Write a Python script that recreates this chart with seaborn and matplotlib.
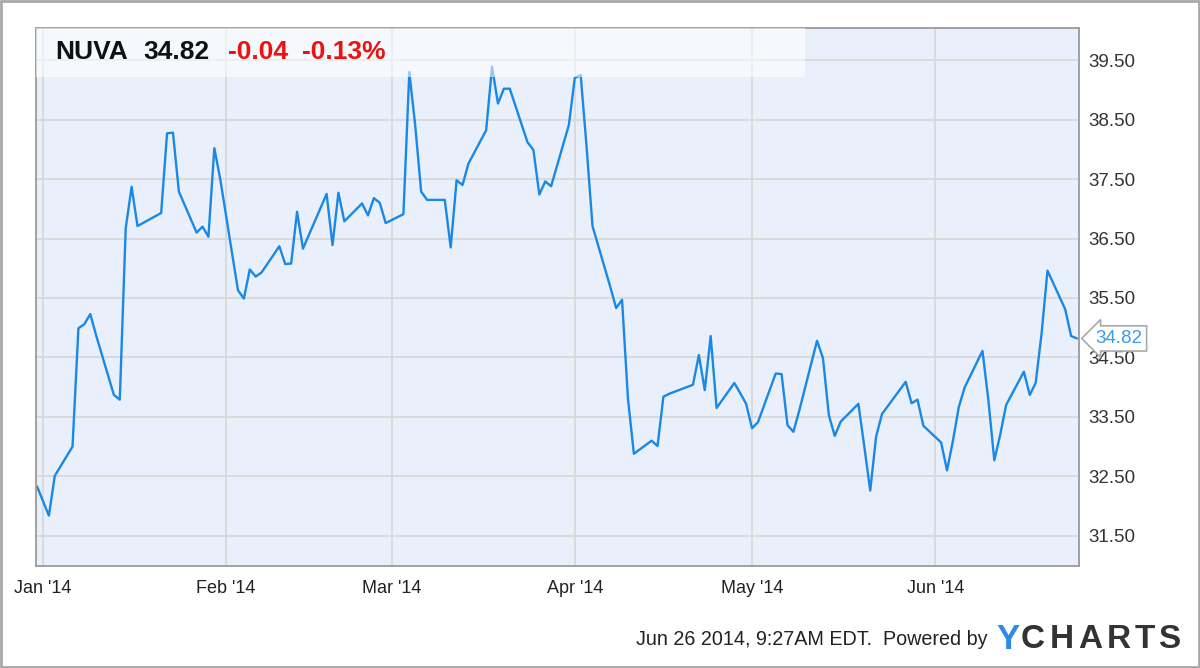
import numpy as np
import pandas as pd
import seaborn as sns
import matplotlib
matplotlib.use("Agg")
from matplotlib import pyplot as plt
import matplotlib.transforms as mtransforms
from matplotlib.patches import Rectangle

# NUVA daily close
dates = ["2013-12-31", "2014-01-02", "2014-01-03", "2014-01-06", "2014-01-07", "2014-01-08",
         "2014-01-09", "2014-01-10", "2014-01-13", "2014-01-14", "2014-01-15", "2014-01-16",
         "2014-01-17", "2014-01-21", "2014-01-22", "2014-01-23", "2014-01-24", "2014-01-27",
         "2014-01-28", "2014-01-29", "2014-01-30", "2014-01-31", "2014-02-03", "2014-02-04",
         "2014-02-05", "2014-02-06", "2014-02-07", "2014-02-10", "2014-02-11", "2014-02-12",
         "2014-02-13", "2014-02-14", "2014-02-18", "2014-02-19", "2014-02-20", "2014-02-21",
         "2014-02-24", "2014-02-25", "2014-02-26", "2014-02-27", "2014-02-28", "2014-03-03",
         "2014-03-04", "2014-03-05", "2014-03-06", "2014-03-07", "2014-03-10", "2014-03-11",
         "2014-03-12", "2014-03-13", "2014-03-14", "2014-03-17", "2014-03-18", "2014-03-19",
         "2014-03-20", "2014-03-21", "2014-03-24", "2014-03-25", "2014-03-26", "2014-03-27",
         "2014-03-28", "2014-03-31", "2014-04-01", "2014-04-02", "2014-04-03", "2014-04-04",
         "2014-04-07", "2014-04-08", "2014-04-09", "2014-04-10", "2014-04-11", "2014-04-14",
         "2014-04-15", "2014-04-16", "2014-04-17", "2014-04-21", "2014-04-22", "2014-04-23",
         "2014-04-24", "2014-04-25", "2014-04-28", "2014-04-29", "2014-04-30", "2014-05-01",
         "2014-05-02", "2014-05-05", "2014-05-06", "2014-05-07", "2014-05-08", "2014-05-09",
         "2014-05-12", "2014-05-13", "2014-05-14", "2014-05-15", "2014-05-16", "2014-05-19",
         "2014-05-20", "2014-05-21", "2014-05-22", "2014-05-23", "2014-05-27", "2014-05-28",
         "2014-05-29", "2014-05-30", "2014-06-02", "2014-06-03", "2014-06-04", "2014-06-05",
         "2014-06-06", "2014-06-09", "2014-06-10", "2014-06-11", "2014-06-12", "2014-06-13",
         "2014-06-16", "2014-06-17", "2014-06-18", "2014-06-19", "2014-06-20", "2014-06-23",
         "2014-06-24", "2014-06-25"]
prices = [32.33, 31.84, 32.51, 33.00, 34.99, 35.06,
          35.23, 34.87, 33.87, 33.79, 36.67, 37.37,
          36.71, 36.93, 38.27, 38.28, 37.29, 36.60,
          36.70, 36.53, 38.02, 37.50, 35.63, 35.49,
          35.98, 35.86, 35.93, 36.37, 36.07, 36.08,
          36.95, 36.33, 37.25, 36.39, 37.27, 36.79,
          37.09, 36.89, 37.18, 37.10, 36.76, 36.91,
          39.30, 38.40, 37.29, 37.15, 37.15, 36.35,
          37.48, 37.40, 37.76, 38.32, 39.39, 38.77,
          39.02, 39.02, 38.12, 37.99, 37.24, 37.46,
          37.38, 38.41, 39.20, 39.25, 38.04, 36.71,
          35.69, 35.33, 35.47, 33.81, 32.88, 33.10,
          33.01, 33.84, 33.89, 34.04, 34.54, 33.95,
          34.86, 33.65, 34.07, 33.90, 33.72, 33.31,
          33.41, 34.23, 34.22, 33.36, 33.25, 33.61,
          34.78, 34.49, 33.53, 33.18, 33.42, 33.72,
          33.00, 32.26, 33.17, 33.55, 34.09, 33.73,
          33.79, 33.35, 33.07, 32.60, 33.10, 33.67,
          34.00, 34.61, 33.78, 32.77, 33.20, 33.70,
          34.26, 33.87, 34.07, 34.90, 35.96, 35.31,
          34.86, 34.82]

y_ticks = [31.5, 32.5, 33.5, 34.5, 35.5, 36.5, 37.5, 38.5, 39.5]
month_ticks = ["2014-01-01", "2014-02-01", "2014-03-01", "2014-04-01", "2014-05-01", "2014-06-01"]
month_labels = ["Jan '14", "Feb '14", "Mar '14", "Apr '14", "May '14", "Jun '14"]

ticker = "NUVA"
last_price = "34.82"
change = "-0.04"
change_pct = "-0.13%"
stamp = "Jun 26 2014, 9:27AM EDT.  Powered by"

df = pd.DataFrame({"date": pd.to_datetime(dates), "price": prices})

sns.set_style("white")
plt.rcParams["font.family"] = ["Liberation Sans", "DejaVu Sans"]

fig = plt.figure(figsize=(12, 6.68), dpi=100)
ax = fig.add_axes([0.030, 0.153, 0.869, 0.805])
ax.set_facecolor("#e9f0fc")

sns.lineplot(data=df, x="date", y="price", ax=ax, color="#1a88e6", linewidth=1.7)

start = pd.Timestamp("2014-01-01")
ax.set_xlim(start - pd.Timedelta(days=1.18), start + pd.Timedelta(days=175.3))
ax.set_ylim(30.996, 40.04)

ax.set_xticks(pd.to_datetime(month_ticks))
ax.set_xticklabels(month_labels, fontsize=13, color="#222222")
ax.set_yticks(y_ticks)
ax.set_yticklabels([f"{v:.2f}" for v in y_ticks], fontsize=13.5, color="#333333")
ax.yaxis.tick_right()
ax.tick_params(axis="both", length=0)
ax.tick_params(axis="y", pad=7)
ax.tick_params(axis="x", pad=10)
ax.grid(True, color="#d8d8d8", linewidth=1.3)
ax.set_axisbelow(True)
ax.set_xlabel("")
ax.set_ylabel("")
for s in ax.spines.values():
    s.set_color("#9a9a9a")
    s.set_linewidth(1.3)

# translucent header band with quote
ax.add_patch(Rectangle((0, 0.909), 0.737, 0.091, transform=ax.transAxes,
                       facecolor="white", alpha=0.55, edgecolor="none", zorder=3))
quote = [(ticker, 0.018, "#111111"), (last_price, 0.1026, "#111111"),
         (change, 0.1841, "#ee1111"), (change_pct, 0.2550, "#ee1111")]
for txt, xpos, col in quote:
    ax.text(xpos, 0.955, txt, transform=ax.transAxes, fontsize=19, fontweight="bold",
            va="center", ha="left", color=col, zorder=4)

# last value callout on the right axis
trans = mtransforms.blended_transform_factory(ax.transAxes, ax.transData)
ax.annotate(last_price, xy=(1.0, prices[-1]), xycoords=trans,
            xytext=(1.016, prices[-1]), textcoords=trans,
            fontsize=13.5, color="#3a9af0", va="center", ha="left",
            bbox=dict(boxstyle="larrow,pad=0.22", facecolor="white", edgecolor="#aaaaaa", linewidth=1.2),
            annotation_clip=False, zorder=5)

# footer
fig.text(0.530, 0.042, stamp, fontsize=14.2, color="#222222", ha="left", va="center")
fig.text(0.830, 0.042, "Y", fontsize=25, fontweight="bold", color="#2d8be8", ha="left", va="center")
logo_x = 1021
for letter, adv in zip("CHARTS", [28.5, 28.5, 28.5, 28.0, 24.0, 26.0]):
    fig.text(logo_x / 1200, 0.042, letter, fontsize=24, fontweight="bold", color="#333333",
             ha="left", va="center")
    logo_x += adv

# outer frame
fig.add_artist(Rectangle((0.001, 0.0015), 0.998, 0.997, transform=fig.transFigure,
                         facecolor="none", edgecolor="#a8a8a8", linewidth=2))

fig.savefig("out.png", dpi=100, facecolor="white")
